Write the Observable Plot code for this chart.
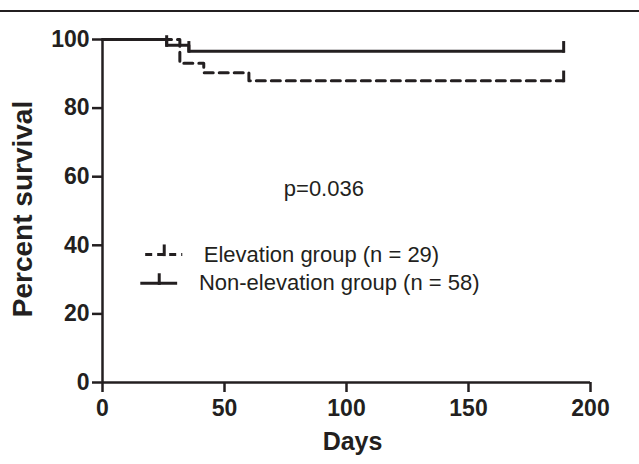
<!DOCTYPE html>
<html>
<head>
<meta charset="utf-8">
<script src="https://cdn.jsdelivr.net/npm/d3@7"></script>
<script src="https://cdn.jsdelivr.net/npm/@observablehq/plot@0.6"></script>
<style>
  html, body { margin: 0; padding: 0; background: #fff; }
  #wrap { position: relative; width: 639px; height: 464px; }
  #rule { position: absolute; left: 0; top: 10px; width: 639px; height: 2px; background: #231f20; }
  #chart { position: absolute; left: 0; top: 0; }
</style>
</head>
<body>
<div id="wrap"><div id="rule"></div><div id="chart"></div></div>
<script>
// Kaplan–Meier steps (day, percent survival)
const elevDays = [0, 31.7, 41.5, 60, 189];
const elevPct  = [100, 93.1, 90.3, 88.0, 88.0];
const nonDays  = [0, 26.3, 35.4, 189];
const nonPct   = [100, 98.3, 96.6, 96.6];
// censor marks
const elevCensorDays = [189];
const elevCensorPct  = [88.0];
const nonCensorDays  = [26.3, 35.4, 189];
const nonCensorPct   = [98.3, 96.6, 96.6];
// ticks
const xTicks = [0, 50, 100, 150, 200];
const yTicks = [0, 20, 40, 60, 80, 100];
// legend (data units)
const legendLabels = ["Elevation group (n = 29)", "Non-elevation group (n = 58)"];
const legendY = [37.3, 28.9];
const legendX1 = [17.7, 15.7];
const legendX2 = [32.9, 30.8];
const legendTextX = [41.5, 39.5];
const pLabel = "p=0.036";
const pPos = [74.3, 56.4];

const ink = "#231f20";
const elev = elevDays.map((d, i) => ({day: d, pct: elevPct[i]}));
const non = nonDays.map((d, i) => ({day: d, pct: nonPct[i]}));
const elevC = elevCensorDays.map((d, i) => ({day: d, pct: elevCensorPct[i]}));
const nonC = nonCensorDays.map((d, i) => ({day: d, pct: nonCensorPct[i]}));
const legend = legendLabels.map((l, i) => ({label: l, y: legendY[i], x1: legendX1[i], x2: legendX2[i], tx: legendTextX[i]}));

const censorUp = 2.8, censorDown = 0.6;

const chart = Plot.plot({
  width: 639,
  height: 464,
  marginLeft: 102,
  marginRight: 49,
  marginTop: 39,
  marginBottom: 82,
  style: {fontFamily: "Liberation Sans, Arial, sans-serif", color: ink, background: "transparent"},
  x: {domain: [0, 200]},
  y: {domain: [0, 100]},
  marks: [
    Plot.axisX({ticks: xTicks, tickSize: 10, tickPadding: 7, fontSize: 23, fontWeight: "bold", strokeWidth: 2.5, label: null}),
    Plot.axisY({ticks: yTicks, tickSize: 10, tickPadding: 3, fontSize: 23, fontWeight: "bold", strokeWidth: 2.5, label: null}),
    Plot.ruleY([0], {stroke: ink, strokeWidth: 2.5}),
    Plot.ruleX([0], {stroke: ink, strokeWidth: 2.5}),
    Plot.text(["Percent survival"], {frameAnchor: "left", textAnchor: "middle", rotate: -90, dx: -79, dy: -2, fontSize: 28, fontWeight: "bold", fill: ink}),
    Plot.text(["Days"], {frameAnchor: "bottom", dx: 6, dy: 67, fontSize: 25, fontWeight: "bold", fill: ink}),
    Plot.line(non, {x: "day", y: "pct", curve: "step-after", stroke: ink, strokeWidth: 3}),
    Plot.line(elev, {x: "day", y: "pct", curve: "step-after", stroke: ink, strokeWidth: 3, strokeDasharray: "9,6"}),
    Plot.ruleX(nonC, {x: "day", y1: d => d.pct - censorDown, y2: d => d.pct + censorUp, stroke: ink, strokeWidth: 3}),
    Plot.ruleX(elevC, {x: "day", y1: d => d.pct - censorDown, y2: d => d.pct + censorUp, stroke: ink, strokeWidth: 3}),
    Plot.ruleY([legend[0]], {y: "y", x1: "x1", x2: "x2", stroke: ink, strokeWidth: 3, strokeDasharray: "7,5"}),
    Plot.ruleY([legend[1]], {y: "y", x1: "x1", x2: "x2", stroke: ink, strokeWidth: 3}),
    Plot.ruleX(legend, {x: d => (d.x1 + d.x2) / 2, y1: d => d.y - censorDown, y2: d => d.y + censorUp, stroke: ink, strokeWidth: 3}),
    Plot.text(legend, {x: "tx", y: "y", text: "label", textAnchor: "start", fontSize: 22, fill: ink}),
    Plot.text([pLabel], {x: () => pPos[0], y: () => pPos[1], textAnchor: "start", fontSize: 22, fill: ink})
  ]
});
document.getElementById("chart").appendChild(chart);
</script>
</body>
</html>
